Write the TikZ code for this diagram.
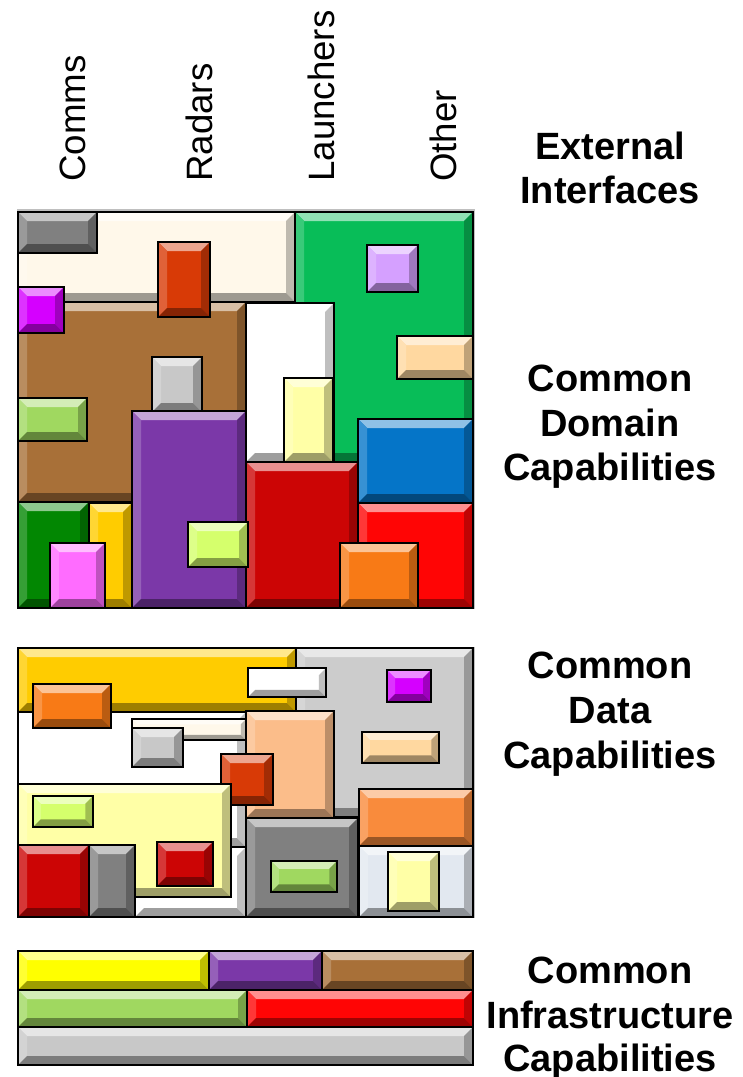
\documentclass[tikz,border=0pt]{standalone}
\usepackage{fontspec}
\setmainfont{Liberation Sans}
\usetikzlibrary{positioning}

\definecolor{cream}{HTML}{FFF8EA}
\definecolor{midgray}{HTML}{808080}
\definecolor{rust}{HTML}{D83A06}
\definecolor{magent}{HTML}{D500FF}
\definecolor{emerald}{HTML}{08BD58}
\definecolor{lavender}{HTML}{D5A0FF}
\definecolor{peachlt}{HTML}{FFD8A0}
\definecolor{peach}{HTML}{FBBD8A}
\definecolor{brownish}{HTML}{A87038}
\definecolor{paleyellow}{HTML}{FFFFA6}
\definecolor{silver}{HTML}{C8C8C8}
\definecolor{lightgray}{HTML}{CCCCCC}
\definecolor{leaf}{HTML}{A0D860}
\definecolor{grape}{HTML}{7B38A8}
\definecolor{ocean}{HTML}{0575C8}
\definecolor{darkred}{HTML}{CC0505}
\definecolor{brightred}{HTML}{FF0505}
\definecolor{forest}{HTML}{028702}
\definecolor{gold}{HTML}{FFCC00}
\definecolor{pinkish}{HTML}{FF6CFF}
\definecolor{lime}{HTML}{D5FF6C}
\definecolor{tangerine}{HTML}{F87A16}
\definecolor{apricot}{HTML}{F98B3C}
\definecolor{icewhite}{HTML}{E2E8F0}
\definecolor{lemon}{HTML}{FFFF00}

\newcommand{\capbox}[5]{%
  \pgfmathsetmacro{\bw}{min(9,0.25*abs(#4-#2),0.25*abs(#5-#3))}
  \fill[#1] (#2,#3) rectangle (#4,#5);
  \fill[#1!45!white] (#2,#3) -- (#4,#3) -- (#4-\bw,#3+\bw) -- (#2+\bw,#3+\bw) -- cycle;
  \fill[#1!80!white] (#2,#3) -- (#2+\bw,#3+\bw) -- (#2+\bw,#5-\bw) -- (#2,#5) -- cycle;
  \fill[#1!75!black] (#4,#3) -- (#4-\bw,#3+\bw) -- (#4-\bw,#5-\bw) -- (#4,#5) -- cycle;
  \fill[#1!62!black] (#2,#5) -- (#4,#5) -- (#4-\bw,#5-\bw) -- (#2+\bw,#5-\bw) -- cycle;
  \draw[line width=1.4pt] (#2,#3) rectangle (#4,#5);
}

\begin{document}
\begin{tikzpicture}[x=0.75pt,y=-0.75pt,line join=miter,
  collabel/.style={rotate=90,anchor=base west,inner sep=0pt,font=\fontsize{27.5}{28}\selectfont},
  layerlabel/.style={anchor=base,inner sep=0pt,font=\fontsize{28.5}{30}\selectfont\bfseries}]
\useasboundingbox (0,0) rectangle (742,1077);

\node[collabel] (comms) at (85,182) {Comms};
\node[collabel] (radars) at (212,182) {Radars};
\node[collabel] (launchers) at (334,182) {Launchers};
\node[collabel] (other) at (456,182) {Other};

\node[layerlabel] (ext1) at (610,160) {External};
\node[layerlabel] (ext2) at (610,203) {Interfaces};
\node[layerlabel] (dom1) at (610,391) {Common};
\node[layerlabel] (dom2) at (610,436) {Domain};
\node[layerlabel] (dom3) at (610,480) {Capabilities};
\node[layerlabel] (dat1) at (610,678) {Common};
\node[layerlabel] (dat2) at (610,723) {Data};
\node[layerlabel] (dat3) at (610,768) {Capabilities};
\node[layerlabel] (inf1) at (610,983) {Common};
\node[layerlabel] (inf2) at (610,1028) {Infrastructure};
\node[layerlabel] (inf3) at (610,1071) {Capabilities};

\draw[gray!50,line width=0.8pt] (18,210) rectangle (474,608);
\capbox{cream}{18}{212}{295}{302}
\capbox{emerald}{295}{212}{473}{462}
\capbox{brownish}{18}{302}{246}{502}
\capbox{white}{246}{303}{334}{462}
\capbox{midgray}{18}{212}{97}{253}
\capbox{rust}{158}{242}{210}{317}
\capbox{magent}{18}{287}{64}{333}
\capbox{lavender}{367}{245}{418}{292}
\capbox{peachlt}{397}{336}{473}{379}
\capbox{paleyellow}{284}{378}{333}{462}
\capbox{silver}{152}{357}{202}{412}
\capbox{leaf}{18}{398}{87}{441}
\capbox{grape}{132}{411}{246}{608}
\capbox{ocean}{358}{419}{473}{503}
\capbox{darkred}{246}{462}{358}{608}
\capbox{brightred}{358}{503}{473}{608}
\capbox{forest}{18}{502}{89}{608}
\capbox{gold}{89}{503}{132}{608}
\capbox{pinkish}{50}{543}{105}{608}
\capbox{lime}{188}{522}{248}{567}
\capbox{tangerine}{340}{543}{418}{608}

\draw[gray!50,line width=0.8pt] (18,648) rectangle (474,917);
\capbox{gold}{18}{648}{296}{712}
\capbox{lightgray}{296}{648}{473}{817}
\capbox{white}{18}{712}{246}{847}
\capbox{white}{135}{847}{246}{917}
\capbox{cream}{132}{719}{246}{740}
\capbox{silver}{132}{728}{183}{767}
\capbox{white}{248}{668}{326}{697}
\capbox{magent}{387}{670}{431}{702}
\capbox{tangerine}{33}{684}{111}{728}
\capbox{peach}{246}{711}{334}{818}
\capbox{peachlt}{362}{732}{439}{763}
\capbox{rust}{221}{754}{273}{805}
\capbox{paleyellow}{18}{784}{231}{897}
\capbox{lime}{33}{796}{93}{827}
\capbox{apricot}{359}{789}{473}{846}
\capbox{midgray}{246}{818}{358}{917}
\capbox{leaf}{271}{861}{337}{892}
\capbox{icewhite}{359}{846}{473}{917}
\capbox{paleyellow}{388}{852}{439}{911}
\capbox{darkred}{18}{845}{89}{917}
\capbox{midgray}{89}{845}{135}{917}
\capbox{darkred}{157}{842}{213}{886}

\capbox{lemon}{18}{951}{209}{990}
\capbox{grape}{209}{951}{322}{990}
\capbox{brownish}{322}{951}{473}{990}
\capbox{leaf}{18}{990}{247}{1027}
\capbox{brightred}{247}{990}{473}{1027}
\capbox{silver}{18}{1027}{473}{1065}
\end{tikzpicture}
\end{document}
